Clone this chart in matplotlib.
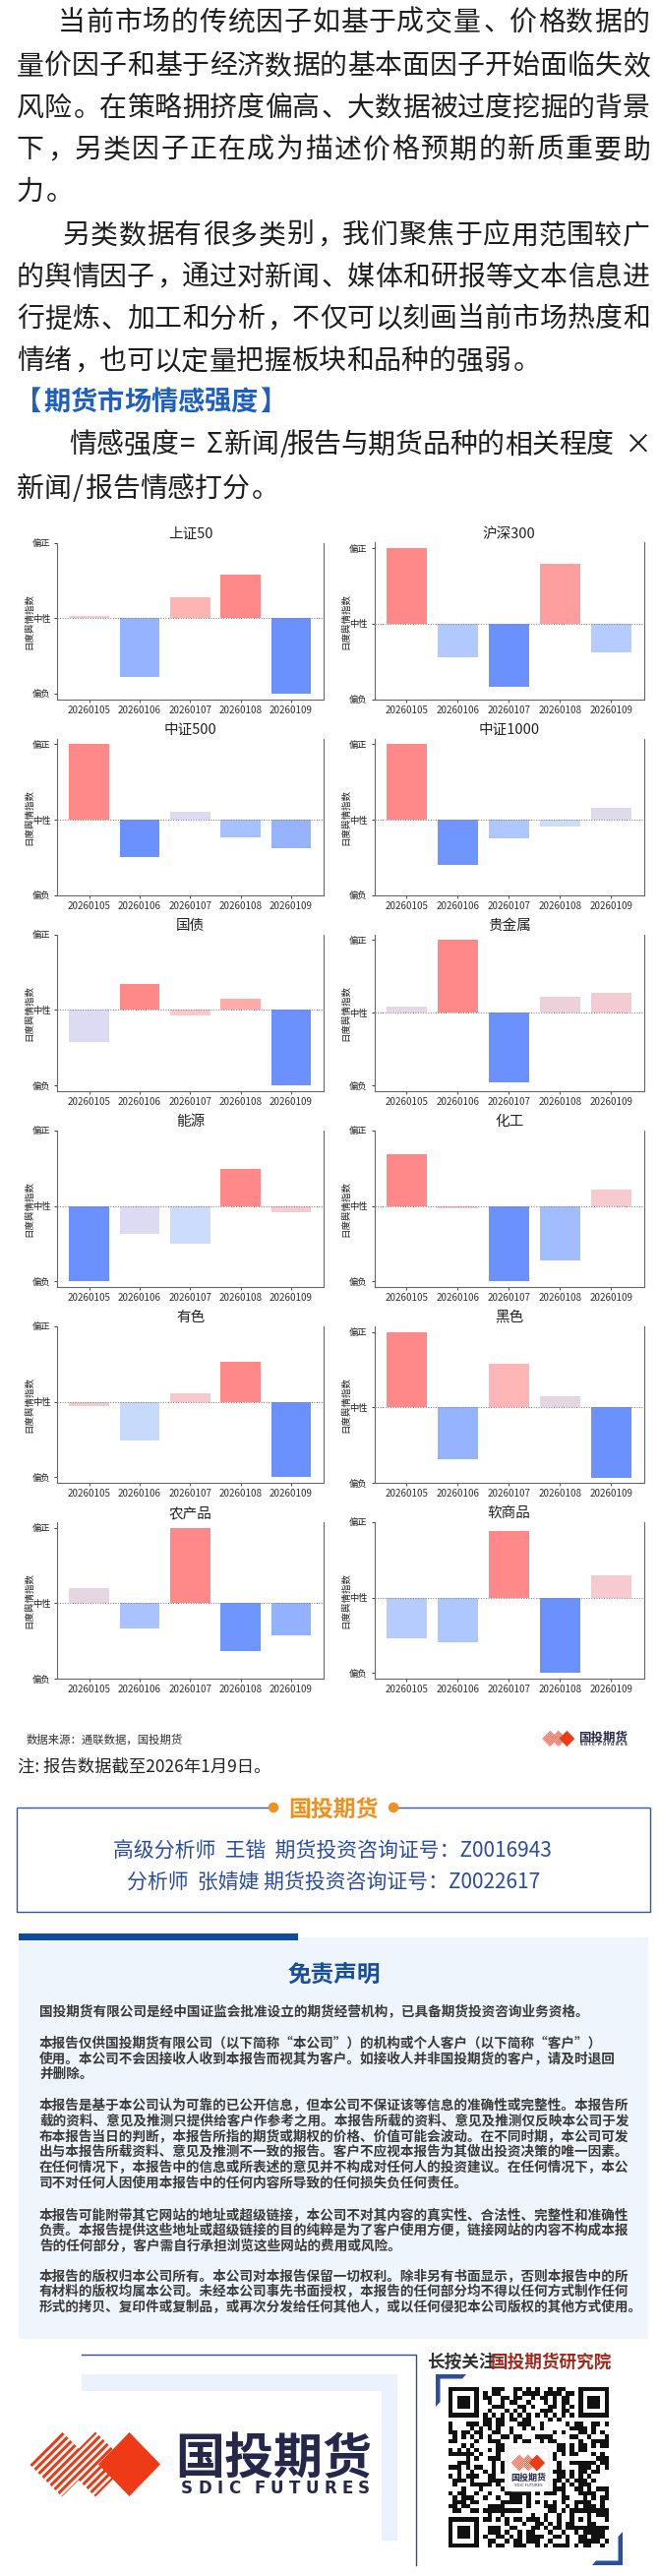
import hashlib

import matplotlib
matplotlib.use('Agg')
import matplotlib.pyplot as plt
import numpy as np
from matplotlib.colors import LinearSegmentedColormap, ListedColormap
from matplotlib.patches import Rectangle, Polygon, Circle, FancyBboxPatch

# ---------------- data ----------------
dates = ['20260105', '20260106', '20260107', '20260108', '20260109']
names = ['上证50', '沪深300', '中证500', '中证1000', '国债', '贵金属',
         '能源', '化工', '有色', '黑色', '农产品', '软商品']

# daily sentiment index, strongest day scaled to +-1
sz50 = [0.03, -0.78, 0.28, 0.57, -1.00]
hs300 = [1.00, -0.44, -0.83, 0.79, -0.38]
zz500 = [1.00, -0.49, 0.11, -0.24, -0.38]
zz1000 = [1.00, -0.60, -0.25, -0.09, 0.16]
guozhai = [-0.43, 0.35, -0.07, 0.155, -1.00]
guijinshu = [0.08, 1.00, -0.96, 0.22, 0.27]
nengyuan = [-1.00, -0.37, -0.50, 0.49, -0.08]
huagong = [0.69, -0.03, -1.00, -0.72, 0.22]
youse = [-0.055, -0.51, 0.11, 0.53, -1.00]
heise = [1.00, -0.69, 0.58, 0.15, -0.93]
nongchanpin = [0.20, -0.33, 1.00, -0.63, -0.42]
ruanshangpin = [-0.54, -0.59, 0.88, -1.00, 0.30]

# bar tint score (-1 blue ... +1 red)
sz50_c = [0.2, -0.6, 0.45, 1.0, -1.0]
hs300_c = [1.0, -0.3, -1.0, 0.7, -0.28]
zz500_c = [1.0, -1.0, -0.03, -0.38, -0.6]
zz1000_c = [1.0, -0.95, -0.32, -0.14, 0.02]
guozhai_c = [-0.02, 1.0, 0.2, 0.55, -1.0]
guijinshu_c = [0.06, 1.0, -1.0, 0.12, 0.18]
nengyuan_c = [-1.0, -0.02, -0.15, 1.0, 0.18]
huagong_c = [1.0, 0.15, -1.0, -0.45, 0.2]
youse_c = [0.18, -0.17, 0.22, 1.0, -1.0]
heise_c = [1.0, -0.6, 0.42, 0.07, -1.0]
nongchanpin_c = [0.07, -0.35, 1.0, -0.95, -0.62]
ruanshangpin_c = [-0.28, -0.32, 1.0, -1.0, 0.2]

values = [sz50, hs300, zz500, zz1000, guozhai, guijinshu,
          nengyuan, huagong, youse, heise, nongchanpin, ruanshangpin]
tones = [sz50_c, hs300_c, zz500_c, zz1000_c, guozhai_c, guijinshu_c,
         nengyuan_c, huagong_c, youse_c, heise_c, nongchanpin_c, ruanshangpin_c]

# ---------------- page ----------------
plt.rcParams['font.family'] = ['Noto Sans CJK SC', 'DejaVu Sans']

W, H = 670, 2618
fig = plt.figure(figsize=(W / 100, H / 100), dpi=100)
fig.patch.set_facecolor('white')
bg = fig.add_axes([0, 0, 1, 1])
bg.set_autoscale_on(False)
bg.set_xlim(0, W)
bg.set_ylim(H, 0)
bg.axis('off')
renderer = fig.canvas.get_renderer()

INK = '#1e1e1e'
NAVY = '#25284A'
RED = '#EE3A16'
LEFT_PUNCT = set('，。、：；”）】')
RIGHT_PUNCT = set('“（【')


def em_px(size):
    return size * 100 / 72


def T(x, yc, s, size, **kw):
    # yc = vertical centre of the glyphs in page pixels
    return bg.text(x, yc + 0.37 * em_px(size), s, fontsize=size, va='baseline', **kw)


def put_line(text, x0, yc, size, x1=None, **kw):
    em = em_px(size)
    widths = []
    for ch in text:
        if ord(ch) >= 0x2E80 or ch in '“”':
            widths.append(em)
        elif ch == ' ':
            widths.append(0.3 * em)
        else:
            t = bg.text(0, 0, ch, fontsize=size, **kw)
            widths.append(t.get_window_extent(renderer).width + 0.1 * em)
            t.remove()
    gap = 0.0
    if x1 is not None and len(text) > 1:
        gap = (x1 - x0 - sum(widths)) / (len(text) - 1)
    x = x0
    for ch, w in zip(text, widths):
        if ch in LEFT_PUNCT:
            T(x + 0.08 * em, yc, ch, size, ha='left', **kw)
        elif ch in RIGHT_PUNCT:
            T(x + w - 0.08 * em, yc, ch, size, ha='right', **kw)
        elif ch != ' ':
            T(x + w / 2, yc, ch, size, ha='center', **kw)
        x += w + gap


# intro text
body = [
    (20.4, 59.0, 660.7, '当前市场的传统因子如基于成交量、价格数据的'),
    (64.8, 16.8, 660.7, '量价因子和基于经济数据的基本面因子开始面临失效'),
    (107.4, 16.8, 660.7, '风险。在策略拥挤度偏高、大数据被过度挖掘的背景'),
    (150.0, 16.8, 660.7, '下，另类因子正在成为描述价格预期的新质重要助'),
    (192.6, 16.8, None, '力。'),
    (237.0, 63.5, 660.7, '另类数据有很多类别，我们聚焦于应用范围较广'),
    (279.6, 16.8, 660.7, '的舆情因子，通过对新闻、媒体和研报等文本信息进'),
    (322.0, 16.8, 660.7, '行提炼、加工和分析，不仅可以刻画当前市场热度和'),
    (364.8, 16.8, None, '情绪，也可以定量把握板块和品种的强弱。'),
]
for yc, x0, x1, s in body:
    put_line(s, x0, yc, 20.1, x1=x1, color=INK)

put_line('【期货市场情感强度】', 17.0, 407.0, 19.6, color='#1F5FBF', fontweight='bold')
put_line('情感强度= Σ新闻/', 70.0, 450.0, 20.1, color=INK)
put_line('报告与期货品种的相关程度', 290.6, 450.0, 20.1, x1=624.0, color=INK)
T(647.5, 450.0, '×', 20.1, ha='center', color=INK)
put_line('新闻/报告情感打分。', 16.8, 494.4, 20.1, color=INK)

# ---------------- sentiment panels ----------------
cmap = LinearSegmentedColormap.from_list('senti', [
    (0.0, '#6A91FF'), (0.2, '#95B3FF'), (0.325, '#AAC3FF'), (0.425, '#CBDCFC'),
    (0.5, '#DEDBF2'), (0.54, '#E7D5E0'), (0.6, '#F6CACF'), (0.725, '#FFB4B3'),
    (0.85, '#FF9E9E'), (1.0, '#FF8888')])

COLS = [(58.3, 329.0), (380.5, 655.0)]
for i, (name, vals, tone) in enumerate(zip(names, values, tones)):
    r, c = divmod(i, 2)
    xl, xr = COLS[c]
    yb = 710.7 + 199.1 * r
    yt = yb - 159.2
    ax = fig.add_axes([xl / W, 1 - yb / H, (xr - xl) / W, (yb - yt) / H])
    ax.set_facecolor('none')
    ax.bar(range(len(dates)), vals, width=0.79,
           color=cmap((np.array(tone) + 1) / 2), zorder=2)
    ax.axhline(0, color='#8a8a8a', lw=0.8, ls=(0, (1, 1.3)), zorder=3)
    lo = -1.075 if min(vals) <= -0.95 else -1.0
    hi = 1.075 if max(vals) >= 0.95 else 1.0
    ax.set_ylim(lo, hi)
    ax.set_xlim(-0.63, 4.645)
    ax.set_yticks([-1, 0, 1], ['偏负', '中性', '偏正'])
    ax.set_xticks(range(len(dates)), dates)
    ax.tick_params(axis='x', labelsize=7.1, colors='#333333', length=2.5, width=0.6, pad=2)
    ax.tick_params(axis='y', labelsize=6.7, colors='#222222', length=2.5, width=0.6, pad=2.4)
    for side in ['left', 'bottom', 'right']:
        ax.spines[side].set_color('#666666')
        ax.spines[side].set_linewidth(0.8)
    ax.spines['top'].set_visible(False)
    w_px, h_px = xr - xl, yb - yt
    ax.text(-29 / w_px, 0.5, '日度舆情指数', transform=ax.transAxes, rotation=90,
            ha='center', va='center', fontsize=6.8, color='#222222')
    ax.text(0.5, 1 + 9 / h_px, name, transform=ax.transAxes, ha='center',
            va='center', fontsize=10.5, color='#222222')


# ---------------- logo helpers ----------------
def draw_mark(ox, oy, s, z=4):
    def P(pts):
        return [(ox + s * x, oy + s * y) for x, y in pts]
    clip = Polygon(P([(0, 0), (33, -33), (50, -16), (67, -33), (100, 0),
                      (67, 33), (50, 16), (33, 33)]), closed=True, fc='none', ec='none')
    bg.add_patch(clip)
    for cc in range(3, 100, 8):
        ln, = bg.plot([ox + s * (cc + 40), ox + s * (cc - 40)], [oy - 40 * s, oy + 40 * s],
                      color=RED, lw=2.2 * s, solid_capstyle='butt', zorder=z)
        ln.set_clip_path(clip)
    bg.add_patch(Polygon(P([(70, 0), (101.5, -32.5), (133, 0), (101.5, 32.5)]),
                         closed=True, fc=RED, ec='none', zorder=z + 1))


def draw_logo(ox, oy, s):
    draw_mark(ox, oy, s)
    T(ox + 148 * s, oy - 8.5 * s, '国投期货', 36 * s, ha='left', color=NAVY, fontweight='bold')
    put_line('SDIC FUTURES', ox + 153 * s, oy + 23.5 * s, 12 * s, x1=ox + 347 * s,
             color=NAVY, fontweight='bold', family='DejaVu Sans')


# ---------------- source / note ----------------
T(27, 1768, '数据来源：通联数据，国投期货', 8.2, ha='left', color='#333333')
draw_logo(551, 1767, 0.25)
T(18, 1794, '注: 报告数据截至2026年1月9日。', 12.5, ha='left', color='#222222')

# analyst box
BOX = '#3655A5'
ORANGE = '#F0901E'
kw_line = dict(color=BOX, lw=1.0, solid_capstyle='butt')
bg.plot([17.3, 17.3, 660.6, 660.6], [1836.7, 1943.3, 1943.3, 1836.7], **kw_line)
bg.plot([17.3, 278], [1836.7, 1836.7], **kw_line)
bg.plot([400, 660.6], [1836.7, 1836.7], **kw_line)
bg.add_patch(Circle((278, 1837), 4.5, color=ORANGE, zorder=3))
bg.add_patch(Circle((400, 1837), 4.5, color=ORANGE, zorder=3))
T(339, 1837, '国投期货', 16.5, ha='center', color=ORANGE, fontweight='bold')
T(338, 1880, '高级分析师  王锴  期货投资咨询证号：Z0016943', 15, ha='center', color='#2B4C9F')
T(339, 1911.7, '分析师  张婧婕 期货投资咨询证号：Z0022617', 15, ha='center', color='#2B4C9F')

# disclaimer
bg.add_patch(Rectangle((18.6, 1969), 640.7, 2376.7 - 1969, color='#EEF5FC', lw=0, zorder=1))
bg.add_patch(Rectangle((18.6, 1965), 284, 6.7, color='#0E4D9E', lw=0, zorder=2))
T(339.4, 2005, '免责声明', 17, ha='center', color='#1B4E98', fontweight='bold')

disclaimer = [
    (2043.0, '国投期货有限公司是经中国证监会批准设立的期货经营机构，已具备期货投资咨询业务资格。'),
    (2075.0, '本报告仅供国投期货有限公司（以下简称“本公司”）的机构或个人客户（以下简称“客户”）'),
    (2091.7, '使用。本公司不会因接收人收到本报告而视其为客户。如接收人并非国投期货的客户，请及时退回'),
    (2106.7, '并删除。'),
    (2138.3, '本报告是基于本公司认为可靠的已公开信息，但本公司不保证该等信息的准确性或完整性。本报告所'),
    (2154.3, '载的资料、意见及推测只提供给客户作参考之用。本报告所载的资料、意见及推测仅反映本公司于发'),
    (2170.0, '布本报告当日的判断，本报告所指的期货或期权的价格、价值可能会波动。在不同时期，本公司可发'),
    (2186.0, '出与本报告所载资料、意见及推测不一致的报告。客户不应视本报告为其做出投资决策的唯一因素。'),
    (2201.7, '在任何情况下，本报告中的信息或所表述的意见并不构成对任何人的投资建议。在任何情况下，本公'),
    (2217.7, '司不对任何人因使用本报告中的任何内容所导致的任何损失负任何责任。'),
    (2250.0, '本报告可能附带其它网站的地址或超级链接，本公司不对其内容的真实性、合法性、完整性和准确性'),
    (2265.7, '负责。本报告提供这些地址或超级链接的目的纯粹是为了客户使用方便，链接网站的内容不构成本报'),
    (2281.7, '告的任何部分，客户需自行承担浏览这些网站的费用或风险。'),
    (2312.3, '本报告的版权归本公司所有。本公司对本报告保留一切权利。除非另有书面显示，否则本报告中的所'),
    (2328.3, '有材料的版权均属本公司。未经本公司事先书面授权，本报告的任何部分均不得以任何方式制作任何'),
    (2344.3, '形式的拷贝、复印件或复制品，或再次分发给任何其他人，或以任何侵犯本公司版权的其他方式使用。'),
]
for yc, s in disclaimer:
    T(40, yc, s, 9.8, ha='left', color='#3a3a3a', fontweight='semibold', zorder=3)

# ---------------- footer ----------------
bg.plot([82.7, 422.7, 422.7], [2393.3, 2393.3, 2606.7], color='#2F4E94', lw=1.0)
bg.add_patch(Rectangle((82.7, 2413), 321.3, 17, color='#EAF3FD', lw=0))
bg.add_patch(Rectangle((388, 2413), 16, 169, color='#EAF3FD', lw=0))
draw_logo(30, 2504.5, 1.0)

T(434, 2399, '长按关注', 12.7, ha='left', color='#333333', fontweight='bold')
T(499, 2399, '国投期货研究院', 12.7, ha='left', color='#A3281C', fontweight='bold')

BLUE = '#2A4F9C'
bg.add_patch(Polygon([(443, 2413), (474, 2413), (470, 2417.5), (447.5, 2417.5),
                      (447.5, 2441), (443, 2446)], closed=True, fc=BLUE, ec='none'))
bg.add_patch(Polygon([(633, 2607), (602, 2607), (606, 2602.5), (628.5, 2602.5),
                      (628.5, 2578), (633, 2573)], closed=True, fc=BLUE, ec='none'))

# decorative code pattern
n = 37
raw = b''.join(hashlib.sha256(b'sdic-qr-%d' % k).digest() for k in range(6))
grid = np.unpackbits(np.frombuffer(raw, dtype=np.uint8))[:n * n].reshape(n, n).copy()


def finder(r0, c0):
    grid[max(r0 - 1, 0):r0 + 8, max(c0 - 1, 0):c0 + 8] = 0
    grid[r0:r0 + 7, c0:c0 + 7] = 1
    grid[r0 + 1:r0 + 6, c0 + 1:c0 + 6] = 0
    grid[r0 + 2:r0 + 5, c0 + 2:c0 + 5] = 1


finder(0, 0)
finder(0, n - 7)
finder(n - 7, 0)
idx = np.arange(8, n - 8)
grid[6, idx] = (idx % 2 == 0)
grid[idx, 6] = (idx % 2 == 0)
grid[28:33, 28:33] = 1
grid[29:32, 29:32] = 0
grid[30, 30] = 1
grid[13:24, 13:24] = 0
bg.imshow(grid, cmap=ListedColormap(['white', '#111111']), extent=(456, 619, 2589, 2426),
          interpolation='nearest', aspect='auto', zorder=3)
bg.add_patch(FancyBboxPatch((516, 2488), 42, 44, boxstyle='round,pad=0,rounding_size=5',
                            fc='white', ec='#dddddd', lw=0.5, zorder=4))
draw_mark(519.5, 2503, 0.26, z=5)
T(537, 2518, '国投期货', 6.5, ha='center', color=NAVY, fontweight='bold', zorder=6)
T(537, 2525.5, 'SDIC FUTURES', 2.8, ha='center', color=NAVY, family='DejaVu Sans', zorder=6)

bg.set_xlim(0, W)
bg.set_ylim(H, 0)

fig.savefig('out.png', dpi=100, facecolor='white')
